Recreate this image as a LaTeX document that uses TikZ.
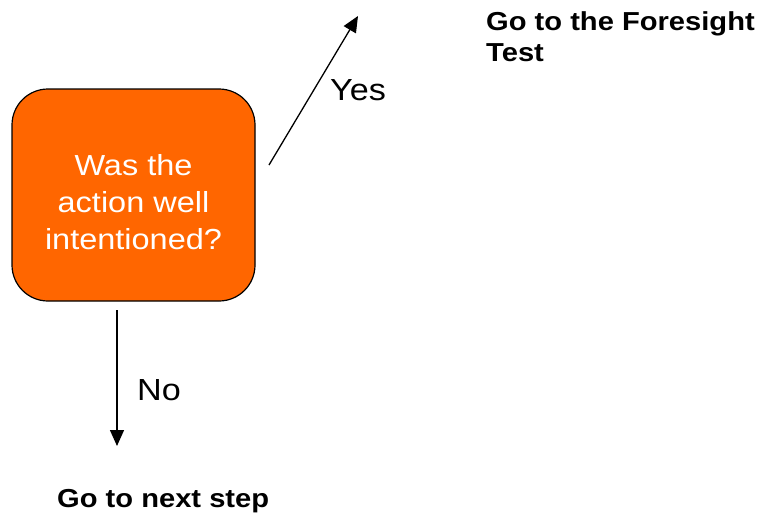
\documentclass[tikz,border=0pt]{standalone}
\usepackage{fontspec}
\setmainfont[FakeStretch=1.12]{Liberation Sans}
\usetikzlibrary{arrows.meta}
\definecolor{boxorange}{HTML}{FF6600}
\begin{document}
\begin{tikzpicture}[x=1pt,y=-1pt,
  decision/.style={draw=black,line width=1.2pt,fill=boxorange,rounded corners=36pt,
    minimum width=243pt,minimum height=212pt},
  boxtext/.style={text=white,align=center,inner sep=0pt,
    font=\fontsize{29}{37}\selectfont},
  flow/.style={line width=1.3pt,-{Triangle[length=16pt,width=14pt]}},
  lbl/.style={font=\fontsize{30.5}{34}\selectfont,inner sep=0pt},
  target/.style={font=\fontsize{26}{31}\selectfont\bfseries,align=left,inner sep=0pt}]
\useasboundingbox (0,0) rectangle (761,515);
\node[decision] (q) at (133.5,195) {};
\node[boxtext] (qt) at (133.5,202.5) {Was the\\action well\\intentioned?};
\coordinate (ys) at (269,165);
\coordinate (ye) at (358,16);
\coordinate (ns) at (117,310);
\coordinate (ne) at (117,446);
\draw[flow] (ys) -- (ye);
\draw[flow] (ns) -- (ne);
\node[lbl,anchor=base west] (yes) at (330,100) {Yes};
\node[lbl,anchor=base west] (no) at (137,400) {No};
\node[target,anchor=base west] (fs) at (486,61) {Go to the Foresight\\Test};
\node[target,anchor=base west] (nx) at (57,507) {Go to next step};
\end{tikzpicture}
\end{document}
